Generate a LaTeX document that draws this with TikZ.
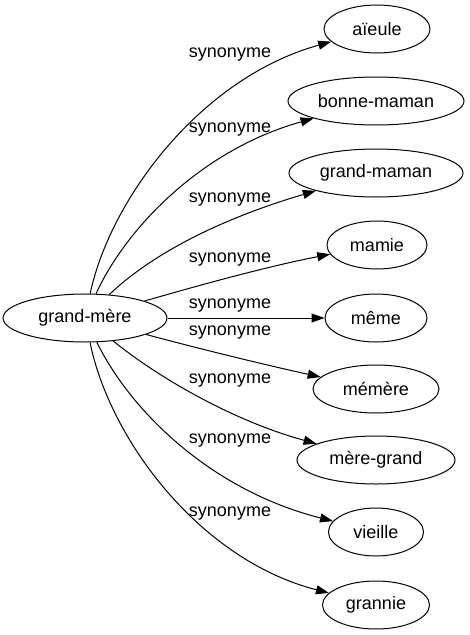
\documentclass[tikz,border=0pt]{standalone}
\usepackage{fontspec}
\setmainfont{Liberation Sans}
\usetikzlibrary{shapes.geometric,arrows.meta}
\begin{document}
\begin{tikzpicture}[x=1pt,y=-1pt,
  word/.style={draw,ellipse,line width=1pt,inner sep=0pt,minimum height=48pt,font=\fontsize{18}{20}\selectfont},
  rel/.style={font=\fontsize{18}{20}\selectfont,inner sep=0pt},
  syn/.style={line width=1pt,-{Triangle[length=13pt,width=9pt]}}]
\useasboundingbox (0,0) rectangle (470,635);
\node[word,minimum width=164pt] (gm) at (85,318) {grand-mère};
\node[word,minimum width=106pt] (n1) at (377,29) {aïeule};
\node[word,minimum width=176pt] (n2) at (376,101) {bonne-maman};
\node[word,minimum width=174pt] (n3) at (376,173) {grand-maman};
\node[word,minimum width=100pt] (n4) at (377,245) {mamie};
\node[word,minimum width=102pt] (n5) at (376,318) {même};
\node[word,minimum width=126pt] (n6) at (376,389) {mémère};
\node[word,minimum width=158pt] (n7) at (376,460) {mère-grand};
\node[word,minimum width=95pt] (n8) at (376,532) {vieille};
\node[word,minimum width=107pt] (n9) at (376,605) {grannie};
\node[rel] (l1) at (230,55) {synonyme};
\node[rel] (l2) at (230,130) {synonyme};
\node[rel] (l3) at (230,200) {synonyme};
\node[rel] (l4) at (230,260) {synonyme};
\node[rel] (l5) at (230,306) {synonyme};
\node[rel] (l6) at (230,333) {synonyme};
\node[rel] (l7) at (230,381) {synonyme};
\node[rel] (l8) at (230,441) {synonyme};
\node[rel] (l9) at (230,514) {synonyme};
\draw[syn] (gm) .. controls (110,200) and (200,78) .. (n1);
\draw[syn] (gm) .. controls (125,230) and (200,150) .. (n2);
\draw[syn] (gm) .. controls (140,265) and (200,225) .. (n3);
\draw[syn] (gm) .. controls (190,288) and (260,268) .. (n4);
\draw[syn] (gm) -- (n5);
\draw[syn] (gm) .. controls (200,349) and (270,366) .. (n6);
\draw[syn] (gm) .. controls (155,375) and (230,420) .. (n7);
\draw[syn] (gm) .. controls (130,410) and (210,490) .. (n8);
\draw[syn] (gm) .. controls (110,440) and (200,560) .. (n9);
\end{tikzpicture}
\end{document}
